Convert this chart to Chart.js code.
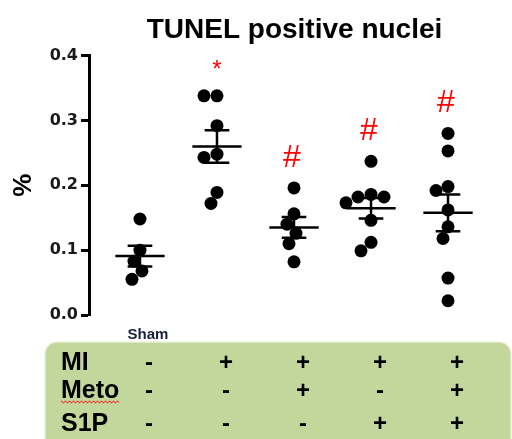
<!DOCTYPE html>
<html>
<head>
<meta charset="utf-8">
<script src="https://cdn.jsdelivr.net/npm/chart.js@4.4.0/dist/chart.umd.min.js"></script>
<style>
  html, body { margin: 0; padding: 0; background: #fff; }
</style>
</head>
<body>
<canvas id="tunelChart" width="512" height="439"></canvas>
<script>
// groups and values (fraction of nuclei, shown as %)
var groups = ['Sham', 'MI', 'MI+Meto', 'MI+S1P', 'MI+Meto+S1P'];
var sham = [0.148, 0.100, 0.083, 0.068, 0.055];
var mi = [0.338, 0.338, 0.292, 0.248, 0.243, 0.189, 0.172];
var miMeto = [0.196, 0.156, 0.140, 0.126, 0.110, 0.082];
var miS1p = [0.237, 0.186, 0.182, 0.182, 0.173, 0.146, 0.112, 0.099];
var miMetoS1p = [0.280, 0.253, 0.198, 0.192, 0.162, 0.136, 0.118, 0.057, 0.022];
var allGroups = [sham, mi, miMeto, miS1p, miMetoS1p];

var yTickLabels = ['0.0', '0.1', '0.2', '0.3', '0.4'];
var xTickLabels = ['Sham', '', '', '', ''];
var marks = ['', '*', '#', '#', '#'];

// treatment table under the plot
var rowLabels = ['MI', 'Meto', 'S1P'];
var miRow = ['-', '+', '+', '+', '+'];
var metoRow = ['-', '-', '+', '-', '+'];
var s1pRow = ['-', '-', '-', '+', '+'];
var tableRows = [miRow, metoRow, s1pRow];

var FONT = '"Liberation Sans", Arial, sans-serif';

function mean(a) {
    return a.reduce(function (s, v) { return s + v; }, 0) / a.length;
}
function sem(a) {
    var m = mean(a);
    var ss = a.reduce(function (s, v) { return s + (v - m) * (v - m); }, 0);
    return Math.sqrt(ss / (a.length - 1)) / Math.sqrt(a.length);
}

// simple beeswarm: spread dots sideways so they don't overlap (in pixels)
function swarm(values, pxX, pxY, diam) {
    var placed = [];
    var offsets = new Array(values.length);
    var order = values.map(function (v, i) { return i; })
        .sort(function (a, b) { return values[b] - values[a]; });
    order.forEach(function (i) {
        var y = values[i] * pxY;
        var best = 0;
        for (var k = 0; k < 400; k++) {
            var dx = (k % 2 === 0 ? 1 : -1) * Math.ceil(k / 2);
            var ok = placed.every(function (p) {
                var ddx = p.x - dx, ddy = p.y - y;
                return ddx * ddx + ddy * ddy >= diam * diam;
            });
            if (ok) { best = dx; break; }
        }
        placed.push({ x: best, y: y });
        offsets[i] = best / pxX;
    });
    return offsets;
}

function dotData(pxX, pxY) {
    var pts = [];
    allGroups.forEach(function (vals, g) {
        var offs = swarm(vals, pxX, pxY, 12.5);
        vals.forEach(function (v, i) {
            pts.push({ x: g + offs[i], y: v });
        });
    });
    return pts;
}

// mean line and SEM whiskers, segments split by null points
var meanSegs = [];
var semSegs = [];
allGroups.forEach(function (vals, g) {
    var m = mean(vals), s = sem(vals);
    meanSegs.push({ x: g - 0.32, y: m }, { x: g + 0.32, y: m }, { x: g, y: null });
    semSegs.push({ x: g, y: m - s }, { x: g, y: m + s }, { x: g, y: null });
    semSegs.push({ x: g - 0.16, y: m + s }, { x: g + 0.16, y: m + s }, { x: g, y: null });
    semSegs.push({ x: g - 0.16, y: m - s }, { x: g + 0.16, y: m - s }, { x: g, y: null });
});

var extrasPlugin = {
    id: 'extras',
    afterDatasetsDraw: function (chart) {
        var ctx = chart.ctx;
        var xs = chart.scales.x, ys = chart.scales.y;
        ctx.save();
        ctx.fillStyle = '#ff0000';
        ctx.textAlign = 'center';
        ctx.textBaseline = 'alphabetic';
        marks.forEach(function (mk, g) {
            if (!mk) return;
            var top = Math.max.apply(null, allGroups[g]);
            var px = xs.getPixelForValue(g);
            var py = ys.getPixelForValue(top + 0.05);
            if (mk === '*') {
                ctx.font = '24px ' + FONT;
                ctx.fillText(mk, px, py + 14);
            } else {
                ctx.font = '32px ' + FONT;
                ctx.fillText(mk, px - 2, py + 11.5);
            }
        });
        ctx.restore();
    },
    afterDraw: function (chart) {
        var ctx = chart.ctx;
        var xs = chart.scales.x;
        var area = chart.chartArea;
        var top = area.bottom + 27;
        ctx.save();
        // green box
        ctx.beginPath();
        ctx.roundRect(45, top, 466, 120, 12);
        ctx.fillStyle = '#c3d69b';
        ctx.fill();
        ctx.strokeStyle = 'rgba(235,242,220,0.9)';
        ctx.lineWidth = 1.5;
        ctx.stroke();

        var baselines = [top + 28, top + 56, top + 89];
        ctx.fillStyle = '#000';
        ctx.textBaseline = 'alphabetic';
        ctx.font = 'bold 25px ' + FONT;
        ctx.textAlign = 'left';
        rowLabels.forEach(function (lab, r) {
            ctx.fillText(lab, 61, baselines[r]);
        });
        ctx.font = 'bold 24px ' + FONT;
        ctx.textAlign = 'center';
        tableRows.forEach(function (row, r) {
            row.forEach(function (sign, g) {
                ctx.fillText(sign, xs.getPixelForValue(g) + 9, baselines[r]);
            });
        });

        // spell-check squiggle under "Meto"
        ctx.font = 'bold 25px ' + FONT;
        var w = ctx.measureText(rowLabels[1]).width;
        ctx.beginPath();
        var sy = baselines[1] + 4;
        for (var x = 61; x <= 61 + w; x += 1) {
            var yy = sy + (Math.floor((x - 61) / 2) % 2 === 0 ? -0.8 : 0.8);
            if (x === 61) ctx.moveTo(x, yy); else ctx.lineTo(x, yy);
        }
        ctx.strokeStyle = '#ff2020';
        ctx.lineWidth = 1;
        ctx.stroke();
        ctx.restore();
    }
};

var ctx = document.getElementById('tunelChart').getContext('2d');
var tunelChart = new Chart(ctx, {
    type: 'scatter',
    data: {
        datasets: [{
            label: 'dots',
            data: dotData(77, 647.5),
            backgroundColor: '#000',
            borderWidth: 0,
            pointRadius: 6.5,
            pointHoverRadius: 6.5,
            clip: false
        }, {
            label: 'mean',
            data: meanSegs,
            showLine: true,
            spanGaps: false,
            borderColor: '#000',
            borderWidth: 2.5,
            pointRadius: 0,
            clip: false
        }, {
            label: 'sem',
            data: semSegs,
            showLine: true,
            spanGaps: false,
            borderColor: '#000',
            borderWidth: 2.5,
            pointRadius: 0,
            clip: false
        }]
    },
    options: {
        responsive: false,
        animation: false,
        layout: {
            padding: { top: 0, left: 0, right: 12, bottom: 84 }
        },
        scales: {
            x: {
                type: 'linear',
                min: -0.662,
                max: 4.675,
                grid: { display: false, drawTicks: false },
                border: { display: false },
                afterBuildTicks: function (scale) {
                    scale.ticks = groups.map(function (g, i) { return { value: i }; });
                },
                ticks: {
                    autoSkip: false,
                    maxRotation: 0,
                    padding: 11,
                    labelOffset: 8,
                    color: '#1a1f3a',
                    font: { family: FONT, size: 15, weight: 'bold' },
                    callback: function (value, index) { return xTickLabels[index]; }
                }
            },
            y: {
                min: 0,
                max: 0.4,
                afterFit: function (scale) { scale.width = 89; },
                afterBuildTicks: function (scale) {
                    scale.ticks = yTickLabels.map(function (t) { return { value: parseFloat(t) }; });
                },
                border: { display: true, color: '#000', width: 3 },
                grid: {
                    drawOnChartArea: false,
                    drawTicks: true,
                    tickLength: 8,
                    tickWidth: 3,
                    color: '#000'
                },
                ticks: {
                    padding: 3,
                    color: '#1a1a1a',
                    font: { family: '"DejaVu Sans", Verdana, sans-serif', size: 16, weight: 'bold' },
                    callback: function (value, index) { return yTickLabels[index]; }
                },
                title: {
                    display: true,
                    text: '%',
                    color: '#000',
                    padding: { top: 8, bottom: 0 },
                    font: { family: FONT, size: 26, weight: 'bold' }
                }
            }
        },
        plugins: {
            legend: { display: false },
            tooltip: { enabled: false },
            title: {
                display: true,
                text: 'TUNEL positive nuclei',
                fullSize: false,
                color: '#000',
                padding: { top: 13, bottom: 9 },
                font: { family: FONT, size: 28, weight: 'bold' }
            }
        }
    },
    plugins: [extrasPlugin]
});

// redo the dot spreading with the real pixel sizes of the scales
var xs = tunelChart.scales.x, ys = tunelChart.scales.y;
var pxX = xs.getPixelForValue(1) - xs.getPixelForValue(0);
var pxY = ys.getPixelForValue(0) - ys.getPixelForValue(1);
tunelChart.data.datasets[0].data = dotData(pxX, pxY);
tunelChart.update();
</script>
</body>
</html>
